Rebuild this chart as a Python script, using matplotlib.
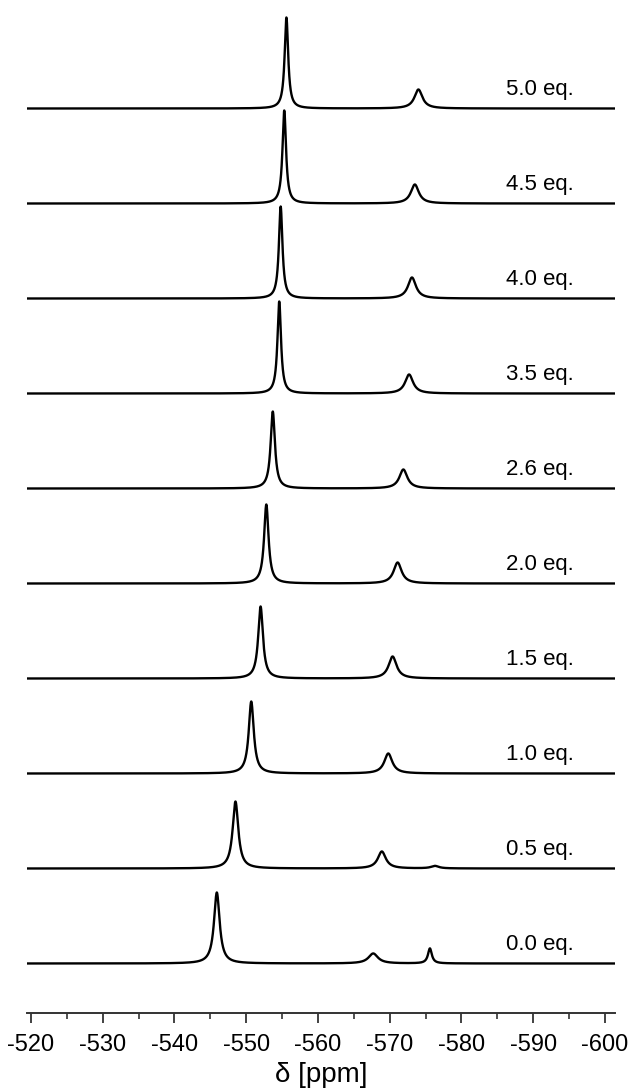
import numpy as np
import matplotlib
matplotlib.use('Agg')
import matplotlib.pyplot as plt
from matplotlib.ticker import MultipleLocator

plt.rcParams['font.family'] = ['Liberation Sans', 'DejaVu Sans']
plt.rcParams['axes.unicode_minus'] = False

# equivalents, bottom to top
labels = ['0.0 eq.', '0.5 eq.', '1.0 eq.', '1.5 eq.', '2.0 eq.',
          '2.6 eq.', '3.5 eq.', '4.0 eq.', '4.5 eq.', '5.0 eq.']

# main signal: shift (ppm), height (a.u.), FWHM (ppm)
main_shift = [-545.9, -548.5, -550.7, -552.0, -552.8, -553.7, -554.6, -554.8, -555.3, -555.6]
main_height = [71, 67, 72, 72, 79, 77, 92, 92, 93, 91]
main_width = [0.95, 0.95, 0.85, 0.8, 0.75, 0.72, 0.6, 0.6, 0.6, 0.6]

# second signal
minor_shift = [-567.7, -568.9, -569.8, -570.4, -571.1, -571.9, -572.7, -573.1, -573.5, -574.0]
minor_height = [10, 17, 20, 22, 21, 19, 19, 21, 19, 19]
minor_width = [1.6, 1.35, 1.35, 1.35, 1.35, 1.35, 1.35, 1.35, 1.35, 1.35]

# third signal, only in the first two spectra
third_shift = [-575.6, -576.3]
third_height = [15, 2.5]
third_width = [0.65, 1.3]

step = 95.0      # vertical offset between traces
base0 = 49.2     # baseline of lowest trace


def lorentz(x, x0, h, w):
    g = w / 2.0
    return h * g**2 / ((x - x0)**2 + g**2)


x = np.linspace(-519.4, -601.4, 6000)

fig = plt.figure(figsize=(6.30, 10.91), dpi=100)
ax = fig.add_axes([26.7 / 630, 1 - 1012.7 / 1091, (615 - 26.7) / 630, (1012.7 - 5) / 1091])

for i, lab in enumerate(labels):
    y = lorentz(x, main_shift[i], main_height[i], main_width[i])
    y += lorentz(x, minor_shift[i], minor_height[i], minor_width[i])
    if i < len(third_shift):
        y += lorentz(x, third_shift[i], third_height[i], third_width[i])
    off = base0 + i * step
    ax.plot(x, y + off, color='black', lw=1.7)
    ax.text(-586.2, off + 19, lab, fontsize=16, ha='left', va='center')

ax.set_xlim(-519.4, -601.4)
ax.set_ylim(0, 1012.7 - 5)

for s in ['top', 'left', 'right']:
    ax.spines[s].set_visible(False)
ax.spines['bottom'].set_linewidth(1.4)
ax.spines['bottom'].set_color('#333333')
ax.set_yticks([])

ax.xaxis.set_major_locator(MultipleLocator(10))
ax.xaxis.set_minor_locator(MultipleLocator(5))
ax.tick_params(axis='x', which='major', direction='out', length=7.5, width=1.3,
               labelsize=17, pad=8, color='#333333')
ax.tick_params(axis='x', which='minor', direction='out', length=4, width=1.2, color='#333333')
ax.set_xlabel('δ [ppm]', fontsize=20, labelpad=4)

fig.savefig('out.png', dpi=100)
